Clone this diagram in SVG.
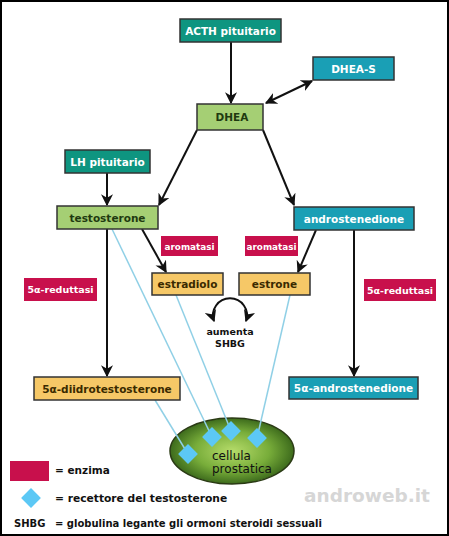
<svg xmlns="http://www.w3.org/2000/svg" width="449" height="536" viewBox="0 0 449 536">
<defs>
<style>
.box{stroke:#333;stroke-width:1.5}
.teal{fill:#0e9580}
.cyan{fill:#1a9fb5}
.green{fill:#a5cf74}
.yellow{fill:#f6c867}
.enz{fill:#c8104c}
.t{font-family:"DejaVu Sans",Verdana,sans-serif;font-weight:bold;font-size:10.5px;text-anchor:middle}
.w{fill:#fff}
.dg{fill:#1f3a10}
.dk{fill:#3a2a00}
.e{font-family:"DejaVu Sans",Verdana,sans-serif;font-weight:bold;font-size:9.5px;fill:#fff;text-anchor:middle}
.arr{stroke:#111;stroke-width:2;fill:none}
.blue{stroke:#90d0e6;stroke-width:1.5;fill:none}
.dia{fill:#5cc8f5}
.leg{font-family:"DejaVu Sans",Verdana,sans-serif;font-weight:bold;font-size:11px;fill:#111}
</style>
<marker id="ah" viewBox="0 0 10 10" refX="9" refY="5" markerWidth="6" markerHeight="6" orient="auto-start-reverse" markerUnits="strokeWidth">
<path d="M0,0 L10,5 L0,10 L3,5 z" fill="#111"/>
</marker>
<marker id="ahs" viewBox="0 0 10 10" refX="9" refY="5" markerWidth="6" markerHeight="6" orient="auto" markerUnits="strokeWidth">
<path d="M0,0 L10,5 L0,10 L3,5 z" fill="#111"/>
</marker>
<radialGradient id="cellg" cx="50%" cy="50%" r="50%">
<stop offset="0" stop-color="#b6dc6a"/>
<stop offset="0.6" stop-color="#78ad3a"/>
<stop offset="1" stop-color="#3d6b1c"/>
</radialGradient>
</defs>
<rect x="1" y="1" width="447" height="534" fill="#fff" stroke="#000" stroke-width="2"/>

<g id="cell">
<ellipse cx="232" cy="451" rx="62" ry="33" fill="url(#cellg)" stroke="#2a3a14" stroke-width="1.5"/>
<text x="212" y="460" style="font-family:'DejaVu Sans',Verdana,sans-serif;font-size:12px;fill:#111">cellula</text>
<text x="212" y="473" style="font-family:'DejaVu Sans',Verdana,sans-serif;font-size:12px;fill:#111">prostatica</text>
</g>

<g id="connectors">
<line class="arr" x1="231" y1="42" x2="231" y2="103" marker-end="url(#ahs)"/>
<line class="arr" x1="312" y1="81" x2="266" y2="103" marker-start="url(#ah)" marker-end="url(#ah)"/>
<line class="arr" x1="197" y1="130" x2="159" y2="205" marker-end="url(#ahs)"/>
<line class="arr" x1="263" y1="130" x2="294" y2="205" marker-end="url(#ahs)"/>
<line class="arr" x1="107" y1="173" x2="107" y2="205" marker-end="url(#ahs)"/>
<line class="arr" x1="142" y1="229" x2="166" y2="272" marker-end="url(#ahs)"/>
<line class="arr" x1="316" y1="230" x2="298" y2="272" marker-end="url(#ahs)"/>
<line class="arr" x1="107" y1="229" x2="107" y2="376" marker-end="url(#ahs)"/>
<line class="arr" x1="354" y1="230" x2="354" y2="376" marker-end="url(#ahs)"/>
<path class="arr" d="M214,321 A17,17 0 1 1 246,321" marker-start="url(#ah)" marker-end="url(#ah)"/>
<line class="blue" x1="112" y1="229" x2="212" y2="437"/>
<line class="blue" x1="176" y1="295" x2="231" y2="431"/>
<line class="blue" x1="290" y1="295" x2="257" y2="438"/>
<line class="blue" x1="155" y1="400" x2="188" y2="454"/>
</g>

<g id="receptors">
<rect class="dia" x="181" y="447" width="14" height="14" transform="rotate(45 188 454)"/>
<rect class="dia" x="205" y="430" width="14" height="14" transform="rotate(45 212 437)"/>
<rect class="dia" x="224" y="424" width="14" height="14" transform="rotate(45 231 431)"/>
<rect class="dia" x="250" y="431" width="14" height="14" transform="rotate(45 257 438)"/>
</g>

<g id="acth"><rect class="box teal" x="180" y="19" width="101" height="23"/><text class="t w" x="230.5" y="34.5">ACTH pituitario</text></g>
<g id="dheas"><rect class="box cyan" x="313" y="57" width="81" height="23"/><text class="t w" x="353.5" y="72.5">DHEA-S</text></g>
<g id="dhea"><rect class="box green" x="197" y="104" width="66" height="26"/><text class="t dg" x="232" y="121">DHEA</text></g>
<g id="lh"><rect class="box teal" x="65" y="150" width="85" height="23"/><text class="t w" x="107.5" y="165.5">LH pituitario</text></g>
<g id="testosterone"><rect class="box green" x="57" y="206" width="101" height="23"/><text class="t dg" x="107.5" y="221.5">testosterone</text></g>
<g id="androstenedione"><rect class="box cyan" x="294" y="207" width="120" height="23"/><text class="t w" x="354" y="222.5">androstenedione</text></g>
<g id="arom1"><rect class="enz" x="161" y="236" width="57" height="20"/><text class="e" x="189.5" y="249.5" style="font-size:8.8px">aromatasi</text></g>
<g id="arom2"><rect class="enz" x="245" y="236" width="53" height="20"/><text class="e" x="271.5" y="249.5" style="font-size:8.8px">aromatasi</text></g>
<g id="estradiolo"><rect class="box yellow" x="152" y="273" width="71" height="22"/><text class="t dk" x="187.5" y="288">estradiolo</text></g>
<g id="estrone"><rect class="box yellow" x="239" y="273" width="71" height="22"/><text class="t dk" x="274.5" y="288">estrone</text></g>
<g id="red1"><rect class="enz" x="24" y="278" width="73" height="23"/><text class="e" x="60.5" y="293">5α-reduttasi</text></g>
<g id="red2"><rect class="enz" x="364" y="279" width="72" height="22"/><text class="e" x="400" y="293.5">5α-reduttasi</text></g>
<g id="shbg"><text class="t" x="230" y="335" style="font-size:9.5px;fill:#111">aumenta</text><text class="t" x="230" y="347" style="font-size:9.5px;fill:#111">SHBG</text></g>
<g id="dht"><rect class="box yellow" x="34" y="377" width="146" height="23"/><text class="t dk" x="107" y="392.5">5α-diidrotestosterone</text></g>
<g id="aandro"><rect class="box cyan" x="289" y="377" width="129" height="22"/><text class="t w" x="353.5" y="392">5α-androstenedione</text></g>

<g id="legend">
<rect class="enz" x="10" y="461" width="39" height="20"/>
<text class="leg" x="55" y="474" style="font-size:10.5px">= enzima</text>
<rect class="dia" x="24" y="491" width="14" height="14" transform="rotate(45 31 498)"/>
<text class="leg" x="55" y="502" style="font-size:10.7px">= recettore del testosterone</text>
<text class="leg" x="14" y="527" style="font-size:10px">SHBG</text>
<text class="leg" x="55" y="527" style="font-size:10px">= globulina legante gli ormoni steroidi sessuali</text>
</g>
<text x="367" y="502" style="font-family:'DejaVu Sans',Verdana,sans-serif;font-weight:bold;font-size:18.5px;fill:#d6d6d6;text-anchor:middle">androweb.it</text>
</svg>
